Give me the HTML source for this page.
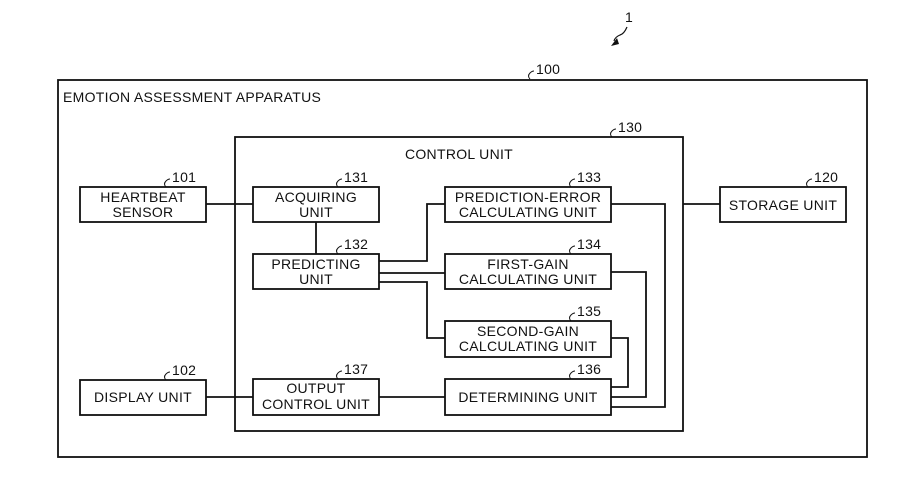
<!DOCTYPE html>
<html><head><meta charset="utf-8"><style>
body{margin:0;background:#fff;}
svg text{font-family:"Liberation Sans",Arial,sans-serif;font-size:14px;letter-spacing:0.3px;fill:#111;}
</style></head><body>
<svg width="913" height="490" xmlns="http://www.w3.org/2000/svg">
<g fill="none" stroke="#111" stroke-width="1.8">
<rect x="58" y="80" width="809" height="377"/>
<rect x="235" y="137" width="448" height="294"/>
<rect x="80" y="187" width="126" height="35"/>
<rect x="80" y="380" width="126" height="35"/>
<rect x="720" y="187" width="126" height="35"/>
<rect x="253" y="187" width="126" height="35"/>
<rect x="253" y="254" width="126" height="35"/>
<rect x="253" y="379" width="126" height="36"/>
<rect x="445" y="187" width="166" height="35"/>
<rect x="445" y="254" width="166" height="35"/>
<rect x="445" y="321" width="166" height="36"/>
<rect x="445" y="379" width="166" height="36"/>
<path d="M206 204H253M206 397H253M683 204H720M316 222V254M379 261H427V204H445M379 273H445M379 282H427V338H445M379 397H445M611 204H665V407H611M611 272H646V397H611M611 338H628V387H611"/>
<path d="M627 27 Q624 34 620 35 Q615 37 614 41" stroke-width="1.2"/>
</g>
<path d="M611 46 L617 38 L619 44Z" fill="#111"/>
<g fill="none" stroke="#111" stroke-width="1">
<path d="M530 79q-3-3 0-6q2-2 4-2"/><path d="M612 137q-3-3 0-6q2-2 4-2"/>
<path d="M166 187q-3-3 0-6q2-2 4-2"/><path d="M166 380q-3-3 0-6q2-2 4-2"/>
<path d="M808 187q-3-3 0-6q2-2 4-2"/><path d="M338 187q-3-3 0-6q2-2 4-2"/>
<path d="M338 254q-3-3 0-6q2-2 4-2"/><path d="M338 379q-3-3 0-6q2-2 4-2"/>
<path d="M571 187q-3-3 0-6q2-2 4-2"/><path d="M571 254q-3-3 0-6q2-2 4-2"/>
<path d="M571 321q-3-3 0-6q2-2 4-2"/><path d="M571 379q-3-3 0-6q2-2 4-2"/>
</g>
<text x="625" y="22">1</text>
<text x="536" y="74">100</text><text x="618" y="132">130</text>
<text x="172" y="182">101</text><text x="172" y="375">102</text><text x="814" y="182">120</text>
<text x="344" y="182">131</text><text x="344" y="249">132</text><text x="344" y="374">137</text>
<text x="577" y="182">133</text><text x="577" y="249">134</text><text x="577" y="316">135</text><text x="577" y="374">136</text>
<text x="63" y="102">EMOTION ASSESSMENT APPARATUS</text>
<g text-anchor="middle">
<text x="459" y="159">CONTROL UNIT</text>
<text x="143" y="202">HEARTBEAT</text><text x="143" y="217">SENSOR</text>
<text x="143" y="402">DISPLAY UNIT</text>
<text x="783" y="210">STORAGE UNIT</text>
<text x="316" y="202">ACQUIRING</text><text x="316" y="217">UNIT</text>
<text x="316" y="269">PREDICTING</text><text x="316" y="284">UNIT</text>
<text x="316" y="393">OUTPUT</text><text x="316" y="409">CONTROL UNIT</text>
<text x="528" y="202">PREDICTION-ERROR</text><text x="528" y="217">CALCULATING UNIT</text>
<text x="528" y="269">FIRST-GAIN</text><text x="528" y="284">CALCULATING UNIT</text>
<text x="528" y="336">SECOND-GAIN</text><text x="528" y="351">CALCULATING UNIT</text>
<text x="528" y="402">DETERMINING UNIT</text>
</g>
</svg>
</body></html>
